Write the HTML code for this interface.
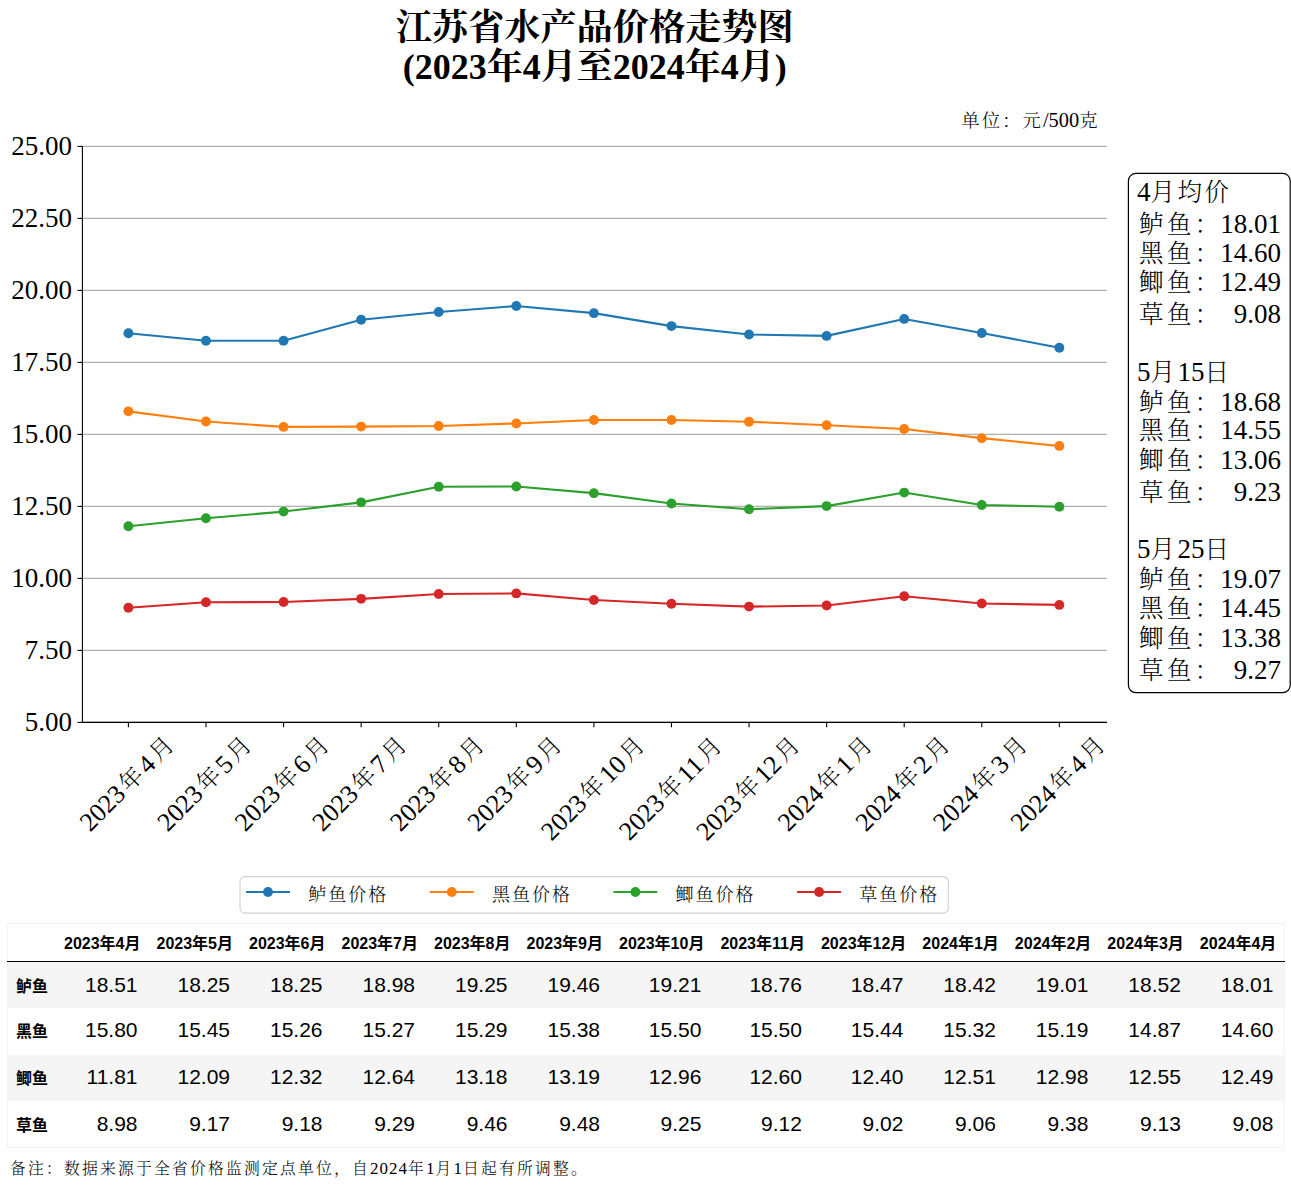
<!DOCTYPE html>
<html><head><meta charset="utf-8"><title>江苏省水产品价格走势图</title>
<style>
html,body{margin:0;padding:0;background:#fff;}
body{width:1291px;height:1198px;position:relative;overflow:hidden;}
svg{position:absolute;left:0;top:0;}
.title{font-family:'Liberation Serif','Noto Serif CJK SC',serif;font-size:36px;font-weight:bold;fill:#000;}
.yt{font-family:'Liberation Serif','Noto Serif CJK SC',serif;font-size:27px;fill:#000;}
.xt{font-family:'Liberation Serif','Noto Serif CJK SC',serif;font-weight:300;font-size:26px;fill:#000;}
.unit{font-family:'Liberation Serif','Noto Serif CJK SC',serif;font-weight:300;font-size:20px;fill:#000;}
.bx{font-family:'Liberation Serif','Noto Serif CJK SC',serif;font-weight:300;font-size:27px;fill:#000;}
.lg{font-family:'Liberation Serif','Noto Serif CJK SC',serif;font-weight:300;font-size:20px;fill:#000;}
table{position:absolute;left:7px;top:923px;width:1278px;border-collapse:collapse;border:1px solid #f3f3f3;font-family:'Liberation Sans','Noto Sans CJK SC',sans-serif;color:#000;}
thead th{font-size:16px;font-weight:bold;height:36px;padding:0 8px 1px 8px;text-align:right;border-bottom:1px solid #000;white-space:nowrap;}
tbody td{font-size:21px;text-align:right;padding:0 11px 0 8px;}
tbody th{font-size:16px;font-weight:bold;text-align:left;padding:0 8px;white-space:nowrap;}
tbody tr:nth-child(odd){background:#f5f5f5;}
tbody tr:nth-child(2) td,tbody tr:nth-child(3) td,tbody tr:nth-child(2) th,tbody tr:nth-child(3) th{padding-bottom:3px;}
.note{position:absolute;left:10px;top:1156px;font-family:'Liberation Serif','Noto Serif CJK SC',serif;font-weight:300;font-size:17px;letter-spacing:1px;color:#000;white-space:nowrap;}
.note .c{font-size:15.8px;letter-spacing:2.2px;}
</style></head><body>
<svg width="1291" height="920" viewBox="0 0 1291 920">
<line x1="82.40" y1="722.40" x2="1107.00" y2="722.40" stroke="#b0b0b0" stroke-width="1.1"/>
<line x1="82.40" y1="650.40" x2="1107.00" y2="650.40" stroke="#b0b0b0" stroke-width="1.1"/>
<line x1="82.40" y1="578.40" x2="1107.00" y2="578.40" stroke="#b0b0b0" stroke-width="1.1"/>
<line x1="82.40" y1="506.40" x2="1107.00" y2="506.40" stroke="#b0b0b0" stroke-width="1.1"/>
<line x1="82.40" y1="434.40" x2="1107.00" y2="434.40" stroke="#b0b0b0" stroke-width="1.1"/>
<line x1="82.40" y1="362.40" x2="1107.00" y2="362.40" stroke="#b0b0b0" stroke-width="1.1"/>
<line x1="82.40" y1="290.40" x2="1107.00" y2="290.40" stroke="#b0b0b0" stroke-width="1.1"/>
<line x1="82.40" y1="218.40" x2="1107.00" y2="218.40" stroke="#b0b0b0" stroke-width="1.1"/>
<line x1="82.40" y1="146.40" x2="1107.00" y2="146.40" stroke="#b0b0b0" stroke-width="1.1"/>
<line x1="82.40" y1="145.90" x2="82.40" y2="722.90" stroke="#000" stroke-width="1.1"/>
<line x1="81.90" y1="722.40" x2="1107.00" y2="722.40" stroke="#000" stroke-width="1.1"/>
<line x1="77.50" y1="722.40" x2="82.40" y2="722.40" stroke="#000" stroke-width="1.1"/>
<text x="72.10" y="730.70" text-anchor="end" class="yt">5.00</text>
<line x1="77.50" y1="650.40" x2="82.40" y2="650.40" stroke="#000" stroke-width="1.1"/>
<text x="72.10" y="658.70" text-anchor="end" class="yt">7.50</text>
<line x1="77.50" y1="578.40" x2="82.40" y2="578.40" stroke="#000" stroke-width="1.1"/>
<text x="72.10" y="586.70" text-anchor="end" class="yt">10.00</text>
<line x1="77.50" y1="506.40" x2="82.40" y2="506.40" stroke="#000" stroke-width="1.1"/>
<text x="72.10" y="514.70" text-anchor="end" class="yt">12.50</text>
<line x1="77.50" y1="434.40" x2="82.40" y2="434.40" stroke="#000" stroke-width="1.1"/>
<text x="72.10" y="442.70" text-anchor="end" class="yt">15.00</text>
<line x1="77.50" y1="362.40" x2="82.40" y2="362.40" stroke="#000" stroke-width="1.1"/>
<text x="72.10" y="370.70" text-anchor="end" class="yt">17.50</text>
<line x1="77.50" y1="290.40" x2="82.40" y2="290.40" stroke="#000" stroke-width="1.1"/>
<text x="72.10" y="298.70" text-anchor="end" class="yt">20.00</text>
<line x1="77.50" y1="218.40" x2="82.40" y2="218.40" stroke="#000" stroke-width="1.1"/>
<text x="72.10" y="226.70" text-anchor="end" class="yt">22.50</text>
<line x1="77.50" y1="146.40" x2="82.40" y2="146.40" stroke="#000" stroke-width="1.1"/>
<text x="72.10" y="154.70" text-anchor="end" class="yt">25.00</text>
<line x1="128.40" y1="722.40" x2="128.40" y2="727.30" stroke="#000" stroke-width="1.1"/>
<text class="xt" text-anchor="middle" transform="translate(126.90,783.60) rotate(-45)" dominant-baseline="central">2023<tspan dx="3.0" font-size="23.5">年</tspan><tspan dx="3.0">4</tspan><tspan dx="3.0" font-size="23.5">月</tspan></text>
<line x1="205.98" y1="722.40" x2="205.98" y2="727.30" stroke="#000" stroke-width="1.1"/>
<text class="xt" text-anchor="middle" transform="translate(204.48,783.60) rotate(-45)" dominant-baseline="central">2023<tspan dx="3.0" font-size="23.5">年</tspan><tspan dx="3.0">5</tspan><tspan dx="3.0" font-size="23.5">月</tspan></text>
<line x1="283.56" y1="722.40" x2="283.56" y2="727.30" stroke="#000" stroke-width="1.1"/>
<text class="xt" text-anchor="middle" transform="translate(282.06,783.60) rotate(-45)" dominant-baseline="central">2023<tspan dx="3.0" font-size="23.5">年</tspan><tspan dx="3.0">6</tspan><tspan dx="3.0" font-size="23.5">月</tspan></text>
<line x1="361.14" y1="722.40" x2="361.14" y2="727.30" stroke="#000" stroke-width="1.1"/>
<text class="xt" text-anchor="middle" transform="translate(359.64,783.60) rotate(-45)" dominant-baseline="central">2023<tspan dx="3.0" font-size="23.5">年</tspan><tspan dx="3.0">7</tspan><tspan dx="3.0" font-size="23.5">月</tspan></text>
<line x1="438.72" y1="722.40" x2="438.72" y2="727.30" stroke="#000" stroke-width="1.1"/>
<text class="xt" text-anchor="middle" transform="translate(437.22,783.60) rotate(-45)" dominant-baseline="central">2023<tspan dx="3.0" font-size="23.5">年</tspan><tspan dx="3.0">8</tspan><tspan dx="3.0" font-size="23.5">月</tspan></text>
<line x1="516.30" y1="722.40" x2="516.30" y2="727.30" stroke="#000" stroke-width="1.1"/>
<text class="xt" text-anchor="middle" transform="translate(514.80,783.60) rotate(-45)" dominant-baseline="central">2023<tspan dx="3.0" font-size="23.5">年</tspan><tspan dx="3.0">9</tspan><tspan dx="3.0" font-size="23.5">月</tspan></text>
<line x1="593.88" y1="722.40" x2="593.88" y2="727.30" stroke="#000" stroke-width="1.1"/>
<text class="xt" text-anchor="middle" transform="translate(592.88,788.40) rotate(-45)" dominant-baseline="central">2023<tspan dx="3.0" font-size="23.5">年</tspan><tspan dx="3.0">10</tspan><tspan dx="3.0" font-size="23.5">月</tspan></text>
<line x1="671.46" y1="722.40" x2="671.46" y2="727.30" stroke="#000" stroke-width="1.1"/>
<text class="xt" text-anchor="middle" transform="translate(670.46,788.40) rotate(-45)" dominant-baseline="central">2023<tspan dx="3.0" font-size="23.5">年</tspan><tspan dx="3.0">11</tspan><tspan dx="3.0" font-size="23.5">月</tspan></text>
<line x1="749.04" y1="722.40" x2="749.04" y2="727.30" stroke="#000" stroke-width="1.1"/>
<text class="xt" text-anchor="middle" transform="translate(748.04,788.40) rotate(-45)" dominant-baseline="central">2023<tspan dx="3.0" font-size="23.5">年</tspan><tspan dx="3.0">12</tspan><tspan dx="3.0" font-size="23.5">月</tspan></text>
<line x1="826.62" y1="722.40" x2="826.62" y2="727.30" stroke="#000" stroke-width="1.1"/>
<text class="xt" text-anchor="middle" transform="translate(825.12,783.60) rotate(-45)" dominant-baseline="central">2024<tspan dx="3.0" font-size="23.5">年</tspan><tspan dx="3.0">1</tspan><tspan dx="3.0" font-size="23.5">月</tspan></text>
<line x1="904.20" y1="722.40" x2="904.20" y2="727.30" stroke="#000" stroke-width="1.1"/>
<text class="xt" text-anchor="middle" transform="translate(902.70,783.60) rotate(-45)" dominant-baseline="central">2024<tspan dx="3.0" font-size="23.5">年</tspan><tspan dx="3.0">2</tspan><tspan dx="3.0" font-size="23.5">月</tspan></text>
<line x1="981.78" y1="722.40" x2="981.78" y2="727.30" stroke="#000" stroke-width="1.1"/>
<text class="xt" text-anchor="middle" transform="translate(980.28,783.60) rotate(-45)" dominant-baseline="central">2024<tspan dx="3.0" font-size="23.5">年</tspan><tspan dx="3.0">3</tspan><tspan dx="3.0" font-size="23.5">月</tspan></text>
<line x1="1059.36" y1="722.40" x2="1059.36" y2="727.30" stroke="#000" stroke-width="1.1"/>
<text class="xt" text-anchor="middle" transform="translate(1057.86,783.60) rotate(-45)" dominant-baseline="central">2024<tspan dx="3.0" font-size="23.5">年</tspan><tspan dx="3.0">4</tspan><tspan dx="3.0" font-size="23.5">月</tspan></text>
<polyline points="128.40,333.31 205.98,340.80 283.56,340.80 361.14,319.78 438.72,312.00 516.30,305.95 593.88,313.15 671.46,326.11 749.04,334.46 826.62,335.90 904.20,318.91 981.78,333.02 1059.36,347.71" fill="none" stroke="#1f77b4" stroke-width="2.1" stroke-linejoin="round" stroke-linecap="butt"/>
<circle cx="128.40" cy="333.31" r="4.95" fill="#1f77b4"/>
<circle cx="205.98" cy="340.80" r="4.95" fill="#1f77b4"/>
<circle cx="283.56" cy="340.80" r="4.95" fill="#1f77b4"/>
<circle cx="361.14" cy="319.78" r="4.95" fill="#1f77b4"/>
<circle cx="438.72" cy="312.00" r="4.95" fill="#1f77b4"/>
<circle cx="516.30" cy="305.95" r="4.95" fill="#1f77b4"/>
<circle cx="593.88" cy="313.15" r="4.95" fill="#1f77b4"/>
<circle cx="671.46" cy="326.11" r="4.95" fill="#1f77b4"/>
<circle cx="749.04" cy="334.46" r="4.95" fill="#1f77b4"/>
<circle cx="826.62" cy="335.90" r="4.95" fill="#1f77b4"/>
<circle cx="904.20" cy="318.91" r="4.95" fill="#1f77b4"/>
<circle cx="981.78" cy="333.02" r="4.95" fill="#1f77b4"/>
<circle cx="1059.36" cy="347.71" r="4.95" fill="#1f77b4"/>
<polyline points="128.40,411.36 205.98,421.44 283.56,426.91 361.14,426.62 438.72,426.05 516.30,423.46 593.88,420.00 671.46,420.00 749.04,421.73 826.62,425.18 904.20,428.93 981.78,438.14 1059.36,445.92" fill="none" stroke="#ff7f0e" stroke-width="2.1" stroke-linejoin="round" stroke-linecap="butt"/>
<circle cx="128.40" cy="411.36" r="4.95" fill="#ff7f0e"/>
<circle cx="205.98" cy="421.44" r="4.95" fill="#ff7f0e"/>
<circle cx="283.56" cy="426.91" r="4.95" fill="#ff7f0e"/>
<circle cx="361.14" cy="426.62" r="4.95" fill="#ff7f0e"/>
<circle cx="438.72" cy="426.05" r="4.95" fill="#ff7f0e"/>
<circle cx="516.30" cy="423.46" r="4.95" fill="#ff7f0e"/>
<circle cx="593.88" cy="420.00" r="4.95" fill="#ff7f0e"/>
<circle cx="671.46" cy="420.00" r="4.95" fill="#ff7f0e"/>
<circle cx="749.04" cy="421.73" r="4.95" fill="#ff7f0e"/>
<circle cx="826.62" cy="425.18" r="4.95" fill="#ff7f0e"/>
<circle cx="904.20" cy="428.93" r="4.95" fill="#ff7f0e"/>
<circle cx="981.78" cy="438.14" r="4.95" fill="#ff7f0e"/>
<circle cx="1059.36" cy="445.92" r="4.95" fill="#ff7f0e"/>
<polyline points="128.40,526.27 205.98,518.21 283.56,511.58 361.14,502.37 438.72,486.82 516.30,486.53 593.88,493.15 671.46,503.52 749.04,509.28 826.62,506.11 904.20,492.58 981.78,504.96 1059.36,506.69" fill="none" stroke="#2ca02c" stroke-width="2.1" stroke-linejoin="round" stroke-linecap="butt"/>
<circle cx="128.40" cy="526.27" r="4.95" fill="#2ca02c"/>
<circle cx="205.98" cy="518.21" r="4.95" fill="#2ca02c"/>
<circle cx="283.56" cy="511.58" r="4.95" fill="#2ca02c"/>
<circle cx="361.14" cy="502.37" r="4.95" fill="#2ca02c"/>
<circle cx="438.72" cy="486.82" r="4.95" fill="#2ca02c"/>
<circle cx="516.30" cy="486.53" r="4.95" fill="#2ca02c"/>
<circle cx="593.88" cy="493.15" r="4.95" fill="#2ca02c"/>
<circle cx="671.46" cy="503.52" r="4.95" fill="#2ca02c"/>
<circle cx="749.04" cy="509.28" r="4.95" fill="#2ca02c"/>
<circle cx="826.62" cy="506.11" r="4.95" fill="#2ca02c"/>
<circle cx="904.20" cy="492.58" r="4.95" fill="#2ca02c"/>
<circle cx="981.78" cy="504.96" r="4.95" fill="#2ca02c"/>
<circle cx="1059.36" cy="506.69" r="4.95" fill="#2ca02c"/>
<polyline points="128.40,607.78 205.98,602.30 283.56,602.02 361.14,598.85 438.72,593.95 516.30,593.38 593.88,600.00 671.46,603.74 749.04,606.62 826.62,605.47 904.20,596.26 981.78,603.46 1059.36,604.90" fill="none" stroke="#d62728" stroke-width="2.1" stroke-linejoin="round" stroke-linecap="butt"/>
<circle cx="128.40" cy="607.78" r="4.95" fill="#d62728"/>
<circle cx="205.98" cy="602.30" r="4.95" fill="#d62728"/>
<circle cx="283.56" cy="602.02" r="4.95" fill="#d62728"/>
<circle cx="361.14" cy="598.85" r="4.95" fill="#d62728"/>
<circle cx="438.72" cy="593.95" r="4.95" fill="#d62728"/>
<circle cx="516.30" cy="593.38" r="4.95" fill="#d62728"/>
<circle cx="593.88" cy="600.00" r="4.95" fill="#d62728"/>
<circle cx="671.46" cy="603.74" r="4.95" fill="#d62728"/>
<circle cx="749.04" cy="606.62" r="4.95" fill="#d62728"/>
<circle cx="826.62" cy="605.47" r="4.95" fill="#d62728"/>
<circle cx="904.20" cy="596.26" r="4.95" fill="#d62728"/>
<circle cx="981.78" cy="603.46" r="4.95" fill="#d62728"/>
<circle cx="1059.36" cy="604.90" r="4.95" fill="#d62728"/>
<text x="594.70" y="40.3" text-anchor="middle" class="title" style="font-size:36.2px">江苏省水产品价格走势图</text>
<text x="594.70" y="79" text-anchor="middle" class="title" font-weight="normal">(2023<tspan font-weight="bold">年</tspan>4<tspan font-weight="bold">月至</tspan>2024<tspan font-weight="bold">年</tspan>4<tspan font-weight="bold">月</tspan>)</text>
<text x="1099.6" y="127" text-anchor="end" class="unit" style="font-size:20.4px"><tspan font-size="18.4" letter-spacing="2.00">单位：元</tspan>/500<tspan font-size="18.4" letter-spacing="2.00">克</tspan></text>
<rect x="1128.4" y="173.4" width="161.8" height="519.3" rx="7.5" ry="7.5" fill="#fff" stroke="#000" stroke-width="1.2"/>
<text x="1137" y="201.0" class="bx">4<tspan font-size="24.5" letter-spacing="2.50">月均价</tspan></text>
<text x="1139" y="233.0" class="bx"><tspan font-size="24.5" letter-spacing="3.40">鲈鱼：</tspan></text>
<text x="1281" y="233.0" class="bx" text-anchor="end">18.01</text>
<text x="1139" y="261.8" class="bx"><tspan font-size="24.5" letter-spacing="3.40">黑鱼：</tspan></text>
<text x="1281" y="261.8" class="bx" text-anchor="end">14.60</text>
<text x="1139" y="290.7" class="bx"><tspan font-size="24.5" letter-spacing="3.40">鲫鱼：</tspan></text>
<text x="1281" y="290.7" class="bx" text-anchor="end">12.49</text>
<text x="1139" y="322.6" class="bx"><tspan font-size="24.5" letter-spacing="3.40">草鱼：</tspan></text>
<text x="1281" y="322.6" class="bx" text-anchor="end">9.08</text>
<text x="1137" y="380.7" class="bx">5<tspan font-size="24.5" letter-spacing="2.50">月</tspan>15<tspan font-size="24.5" letter-spacing="2.50">日</tspan></text>
<text x="1139" y="411.2" class="bx"><tspan font-size="24.5" letter-spacing="3.40">鲈鱼：</tspan></text>
<text x="1281" y="411.2" class="bx" text-anchor="end">18.68</text>
<text x="1139" y="439.0" class="bx"><tspan font-size="24.5" letter-spacing="3.40">黑鱼：</tspan></text>
<text x="1281" y="439.0" class="bx" text-anchor="end">14.55</text>
<text x="1139" y="468.8" class="bx"><tspan font-size="24.5" letter-spacing="3.40">鲫鱼：</tspan></text>
<text x="1281" y="468.8" class="bx" text-anchor="end">13.06</text>
<text x="1139" y="500.6" class="bx"><tspan font-size="24.5" letter-spacing="3.40">草鱼：</tspan></text>
<text x="1281" y="500.6" class="bx" text-anchor="end">9.23</text>
<text x="1137" y="557.8" class="bx">5<tspan font-size="24.5" letter-spacing="2.50">月</tspan>25<tspan font-size="24.5" letter-spacing="2.50">日</tspan></text>
<text x="1139" y="588.4" class="bx"><tspan font-size="24.5" letter-spacing="3.40">鲈鱼：</tspan></text>
<text x="1281" y="588.4" class="bx" text-anchor="end">19.07</text>
<text x="1139" y="616.9" class="bx"><tspan font-size="24.5" letter-spacing="3.40">黑鱼：</tspan></text>
<text x="1281" y="616.9" class="bx" text-anchor="end">14.45</text>
<text x="1139" y="646.5" class="bx"><tspan font-size="24.5" letter-spacing="3.40">鲫鱼：</tspan></text>
<text x="1281" y="646.5" class="bx" text-anchor="end">13.38</text>
<text x="1139" y="679.1" class="bx"><tspan font-size="24.5" letter-spacing="3.40">草鱼：</tspan></text>
<text x="1281" y="679.1" class="bx" text-anchor="end">9.27</text>
<rect x="240" y="876.6" width="708.3" height="36.5" rx="5" ry="5" fill="#fff" stroke="#d0d0d0" stroke-width="1.1"/>
<line x1="246" y1="892" x2="290" y2="892" stroke="#1f77b4" stroke-width="2.1"/>
<circle cx="268" cy="892" r="4.95" fill="#1f77b4"/>
<text x="308.2" y="900.5" class="lg"><tspan font-size="18" letter-spacing="2.00">鲈鱼价格</tspan></text>
<line x1="429.8" y1="892" x2="473.8" y2="892" stroke="#ff7f0e" stroke-width="2.1"/>
<circle cx="451.8" cy="892" r="4.95" fill="#ff7f0e"/>
<text x="492.0" y="900.5" class="lg"><tspan font-size="18" letter-spacing="2.00">黑鱼价格</tspan></text>
<line x1="613.4" y1="892" x2="657.4" y2="892" stroke="#2ca02c" stroke-width="2.1"/>
<circle cx="635.4" cy="892" r="4.95" fill="#2ca02c"/>
<text x="675.6" y="900.5" class="lg"><tspan font-size="18" letter-spacing="2.00">鲫鱼价格</tspan></text>
<line x1="797.1" y1="892" x2="841.1" y2="892" stroke="#d62728" stroke-width="2.1"/>
<circle cx="819.1" cy="892" r="4.95" fill="#d62728"/>
<text x="859.3" y="900.5" class="lg"><tspan font-size="18" letter-spacing="2.00">草鱼价格</tspan></text>
</svg>
<table><thead><tr><th></th><th>2023年4月</th><th>2023年5月</th><th>2023年6月</th><th>2023年7月</th><th>2023年8月</th><th>2023年9月</th><th>2023年10月</th><th>2023年11月</th><th>2023年12月</th><th>2024年1月</th><th>2024年2月</th><th>2024年3月</th><th>2024年4月</th></tr></thead><tbody><tr style="height:46.5px"><th>鲈鱼</th><td>18.51</td><td>18.25</td><td>18.25</td><td>18.98</td><td>19.25</td><td>19.46</td><td>19.21</td><td>18.76</td><td>18.47</td><td>18.42</td><td>19.01</td><td>18.52</td><td>18.01</td></tr><tr style="height:47px"><th>黑鱼</th><td>15.80</td><td>15.45</td><td>15.26</td><td>15.27</td><td>15.29</td><td>15.38</td><td>15.50</td><td>15.50</td><td>15.44</td><td>15.32</td><td>15.19</td><td>14.87</td><td>14.60</td></tr><tr style="height:46px"><th>鲫鱼</th><td>11.81</td><td>12.09</td><td>12.32</td><td>12.64</td><td>13.18</td><td>13.19</td><td>12.96</td><td>12.60</td><td>12.40</td><td>12.51</td><td>12.98</td><td>12.55</td><td>12.49</td></tr><tr style="height:46px"><th>草鱼</th><td>8.98</td><td>9.17</td><td>9.18</td><td>9.29</td><td>9.46</td><td>9.48</td><td>9.25</td><td>9.12</td><td>9.02</td><td>9.06</td><td>9.38</td><td>9.13</td><td>9.08</td></tr></tbody></table>
<div class="note"><span class="c">备注：数据来源于全省价格监测定点单位，自</span>2024<span class="c">年</span>1<span class="c">月</span>1<span class="c">日起有所调整。</span></div>
</body></html>
